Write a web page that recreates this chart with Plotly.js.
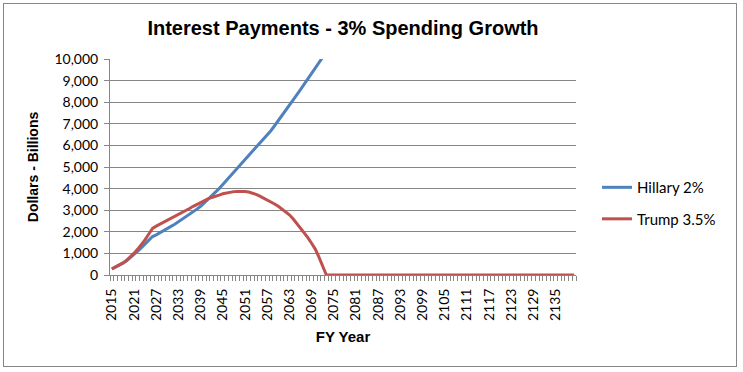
<!DOCTYPE html>
<html>
<head>
<meta charset="utf-8">
<script src="https://cdn.plot.ly/plotly-3.0.1.min.js"></script>
<style>
  html, body { margin: 0; padding: 0; background: #fff; }
  #wrap { position: relative; width: 743px; height: 372px; }
  #chart { width: 743px; height: 372px; }
  #frame { position: absolute; left: 3px; top: 3px; width: 732px; height: 362px; border: 1px solid #868686; pointer-events: none; }
</style>
</head>
<body>
<div id="wrap"><div id="chart"></div><div id="frame"></div></div>
<script>
const years = [
  2015,2016,2017,2018,2019,2020,2021,2022,2023,2024,2025,2026,2027,2028,2029,2030,
  2031,2032,2033,2034,2035,2036,2037,2038,2039,2040,2041,2042,2043,2044,2045,2046,
  2047,2048,2049,2050,2051,2052,2053,2054,2055,2056,2057,2058,2059,2060,2061,2062,
  2063,2064,2065,2066,2067,2068,2069,2070,2071,2072,2073,2074,2075,2076,2077,2078,
  2079,2080,2081,2082,2083,2084,2085,2086,2087,2088,2089,2090,2091,2092,2093,2094,
  2095,2096,2097,2098,2099,2100,2101,2102,2103,2104,2105,2106,2107,2108,2109,2110,
  2111,2112,2113,2114,2115,2116,2117,2118,2119,2120,2121,2122,2123,2124,2125,2126,
  2127,2128,2129,2130,2131,2132,2133,2134,2135,2136,2137,2138,2139,2140
];

// Hillary 2% (values beyond 10,000 are clipped by the axis)
const hillary = [
  280,360,450,550,660,800,950,1110,1270,1440,1610,1780,1860,1950,2060,2150,
  2250,2350,2460,2570,2690,2810,2930,3050,3180,3340,3500,3660,3820,4000,4190,4380,
  4570,4760,4950,5130,5320,5500,5690,5880,6070,6260,6460,6680,6910,7140,7370,7610,
  7850,8090,8340,8580,8820,9060,9300,9560,9820,10080,10350,10620,10900
];

// Trump 3.5%
const trump = [
  280,370,470,560,680,830,1010,1200,1400,1640,1900,2160,2260,2350,2440,2530,
  2610,2700,2790,2870,2980,3080,3180,3270,3350,3440,3520,3590,3630,3700,3760,3800,
  3830,3860,3870,3880,3870,3840,3800,3730,3650,3560,3470,3400,3290,3180,3060,2940,
  2790,2600,2380,2210,1980,1730,1470,1200,830,380,0,0,0,0,0,0,
  0,0,0,0,0,0,0,0,0,0,0,0,0,0,0,0,
  0,0,0,0,0,0,0,0,0,0,0,0,0,0,0,0,
  0,0,0,0,0,0,0,0,0,0,0,0,0,0,0,0,
  0,0,0,0,0,0,0,0,0,0,0,0,0,0
];

const xTickVals = [2015,2021,2027,2033,2039,2045,2051,2057,2063,2069,2075,2081,2087,2093,2099,2105,2111,2117,2123,2129,2135];
const yTickVals = [0,1000,2000,3000,4000,5000,6000,7000,8000,9000,10000];

const traces = [
  { x: years.slice(0, hillary.length), y: hillary, name: 'Hillary 2%', type: 'scatter', mode: 'lines',
    line: { color: '#4F81BD', width: 3 }, legendgroup: 'a' },
  { x: years, y: trump, name: 'Trump 3.5%', type: 'scatter', mode: 'lines',
    line: { color: '#C0504D', width: 3 }, legendgroup: 'b' }
];

const tickFont = { family: 'Lato, "Open Sans", sans-serif', size: 14, color: '#000' };

const layout = {
  width: 743, height: 372,
  margin: { l: 110, r: 167, t: 59, b: 97 },
  paper_bgcolor: '#fff', plot_bgcolor: '#fff',
  title: { text: 'Interest Payments - 3% Spending Growth', x: 0.5, xref: 'paper', xanchor: 'center',
           y: 0.925, yref: 'container', yanchor: 'middle',
           font: { family: '"Liberation Sans", Arial, sans-serif', size: 20, color: '#000', weight: 'bold' } },
  xaxis: {
    range: [2014.5, 2140.5], tickmode: 'array', tickvals: xTickVals, ticktext: xTickVals.map(String),
    tickangle: -90, ticks: '', showgrid: false, zeroline: false,
    showline: true, linecolor: '#868686', linewidth: 1,
    ticklabelstandoff: 7,
    minor: { tickmode: 'linear', tick0: 2014.5, dtick: 1, ticks: 'outside', ticklen: 5, tickcolor: '#868686', tickwidth: 1, showgrid: false },
    tickfont: tickFont,
    title: { text: 'FY Year', standoff: 11, font: { family: '"Liberation Sans", Arial, sans-serif', size: 15, color: '#000', weight: 'bold' } }
  },
  yaxis: {
    range: [0, 10000], tickmode: 'array', tickvals: yTickVals, tickformat: ',d',
    ticks: 'outside', ticklen: 5, tickcolor: '#868686', tickwidth: 1,
    showgrid: true, gridcolor: '#868686', gridwidth: 1, zeroline: false,
    showline: true, linecolor: '#868686', linewidth: 1,
    ticklabelstandoff: 3,
    tickfont: tickFont,
    title: { text: 'Dollars - Billions', standoff: 12, font: { family: '"Liberation Sans", Arial, sans-serif', size: 14, color: '#000', weight: 'bold' } }
  },
  showlegend: true,
  legend: { x: 1.045, xanchor: 'left', y: 0.333, yanchor: 'middle', tracegroupgap: 9,
            font: { family: 'Lato, "Open Sans", sans-serif', size: 15, color: '#000' },
            bgcolor: 'rgba(0,0,0,0)', itemwidth: 30 }
};

Plotly.newPlot('chart', traces, layout, { displayModeBar: false, staticPlot: true });
</script>
</body>
</html>
